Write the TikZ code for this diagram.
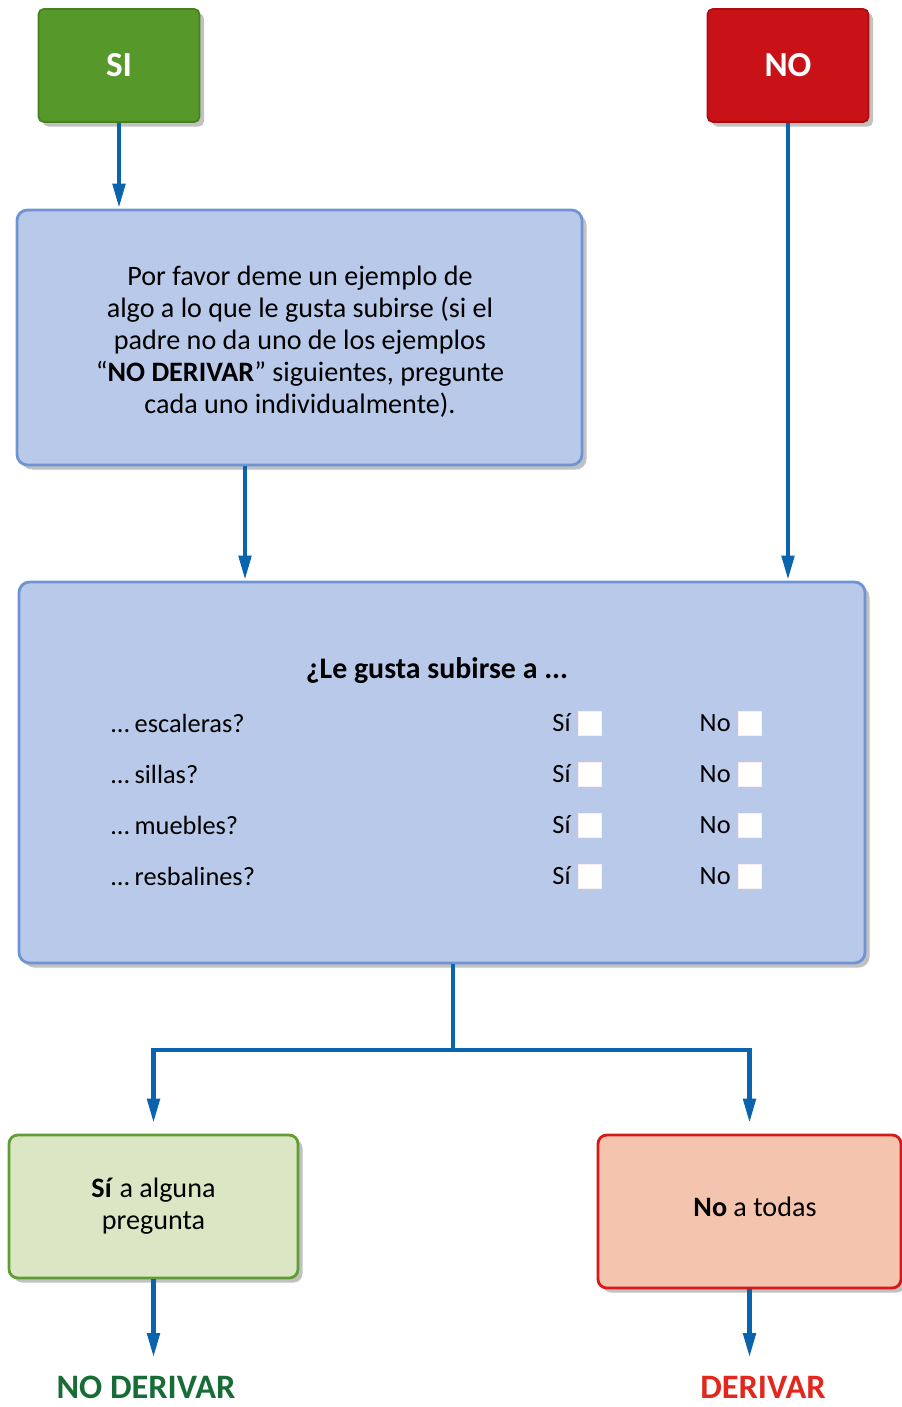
\documentclass[tikz,border=0pt]{standalone}
\usepackage{fontspec}
\setmainfont{Carlito}
\usetikzlibrary{positioning, arrows.meta, shadows, calc}

\definecolor{flowblue}{RGB}{10,99,173}
\definecolor{qfill}{RGB}{185,201,233}
\definecolor{qline}{RGB}{110,148,212}
\definecolor{sigreen}{RGB}{86,152,42}
\definecolor{sigreenD}{RGB}{70,128,32}
\definecolor{nored}{RGB}{200,18,24}
\definecolor{noredD}{RGB}{170,12,16}
\definecolor{yesfill}{RGB}{218,230,196}
\definecolor{yesline}{RGB}{96,158,52}
\definecolor{nofill}{RGB}{245,196,174}
\definecolor{noline}{RGB}{212,26,26}
\definecolor{ndgreen}{RGB}{24,108,54}
\definecolor{dred}{RGB}{226,40,30}

\begin{document}
\begin{tikzpicture}[
  shad/.style={drop shadow={shadow xshift=0.09cm, shadow yshift=-0.09cm, opacity=0.35, fill=black!70}},
  topbox/.style={rounded corners=3pt, minimum width=3.22cm, minimum height=2.26cm, line width=1pt,
                 text=white, font=\fontsize{20}{24}\selectfont\bfseries, shad},
  qbox/.style={rounded corners=6pt, fill=qfill, draw=qline, line width=1.6pt, shad},
  ansbox/.style={rounded corners=5pt, line width=1.6pt, align=center,
                 font=\fontsize{16}{18.2}\selectfont, shad},
  txt/.style={font=\fontsize{15}{18}\selectfont},
  chk/.style={fill=white, draw=pink!30, line width=0.4pt, minimum width=0.46cm, minimum height=0.48cm, inner sep=0pt},
  result/.style={font=\fontsize{19.5}{23}\selectfont\bfseries, inner sep=1pt},
  flow/.style={flowblue, line width=2.8pt},
  arr/.style={flow, -{Triangle[length=0.5cm, width=0.24cm]}},
]
  \useasboundingbox (0,0) rectangle (18.04,-28.14);

  % top choice
  \node[topbox, fill=sigreen, draw=sigreenD] (si) at (2.38,-1.31) {SI};
  \node[topbox, fill=nored, draw=noredD] (no) at (15.76,-1.31) {NO};

  \node[qbox, minimum width=11.3cm, minimum height=5.1cm] (ask) at (5.99,-6.75) {};
  \node[align=center, font=\fontsize{16}{18.2}\selectfont] (asktxt) at (6.0,-6.84)
    {Por favor deme un ejemplo de\\
     algo a lo que le gusta subirse (si el\\
     padre no da uno de los ejemplos\\
     “\textbf{NO DERIVAR}” siguientes, pregunte\\
     cada uno individualmente).};

  % question box
  \node[qbox, minimum width=16.92cm, minimum height=7.62cm] (quest) at (8.84,-15.45) {};
  \node[font=\fontsize{17}{20}\selectfont\bfseries] (qtitle) at (8.74,-13.42) {¿Le gusta subirse a ...};
  \foreach \name/\item/\y in {esc/escaleras?/-14.46, sil/sillas?/-15.48, mue/muebles?/-16.5, res/resbalines?/-17.52} {
    \node[txt, anchor=west, inner xsep=0pt] (\name) at (2.2,\y) {...\,\item};
    \node[txt, anchor=east, inner xsep=0pt] (\name si) at (11.42,\y) {Sí};
    \node[chk] (\name sibox) at (11.79,\y) {};
    \node[txt, anchor=east, inner xsep=0pt] (\name no) at (14.62,\y) {No};
    \node[chk] (\name nobox) at (15.0,\y) {};
  }

  % answers
  \node[ansbox, fill=yesfill, draw=yesline, minimum width=5.78cm, minimum height=2.86cm] (yes) at (3.07,-24.13)
    {\textbf{Sí} a alguna\\pregunta};
  \node[ansbox, fill=nofill, draw=noline, minimum width=6.06cm, minimum height=3.06cm] (none) at (14.99,-24.23) {};
  \node[font=\fontsize{16}{18}\selectfont] (nonetxt) at (15.1,-24.14) {\textbf{No} a todas};

  \node[result, text=ndgreen] (nder) at (2.92,-27.74) {NO DERIVAR};
  \node[result, text=dred] (der) at (15.26,-27.74) {DERIVAR};

  % connectors
  \draw[arr] (si.south) -- (si.south |- ask.north);
  \draw[arr] ([xshift=-1.09cm]ask.south) -- ([xshift=-1.09cm]ask.south |- quest.north);
  \draw[arr] (no.south) -- (no.south |- quest.north);
  \coordinate (split) at (9.06,-21.0);
  \draw[flow] (quest.south -| split) -- (split);
  \draw[arr, shorten >=0.2cm] (split) -| (yes.north);
  \draw[arr, shorten >=0.2cm] (split) -| (none.north);
  \draw[arr] (yes.south) -- (yes.south |- 0,-27.16);
  \draw[arr] (none.south) -- (none.south |- 0,-27.16);
\end{tikzpicture}
\end{document}
